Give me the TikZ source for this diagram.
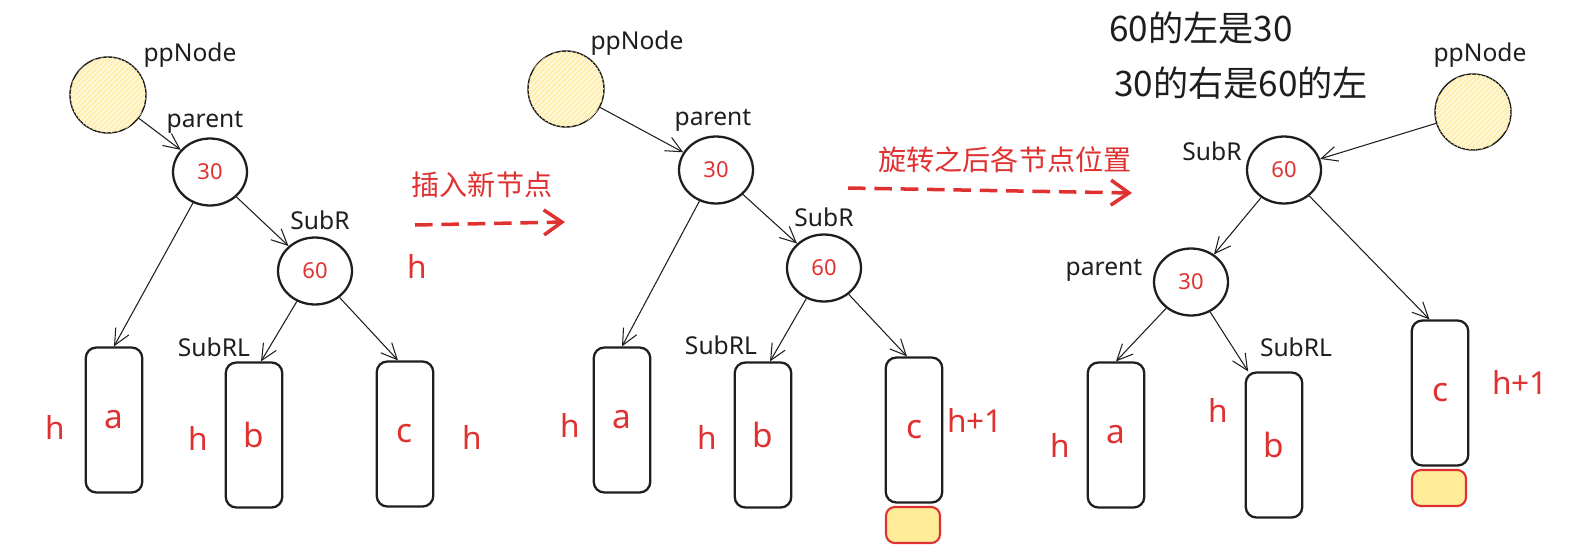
\documentclass[tikz,border=0pt]{standalone}
\usepackage{fontspec}
\setmainfont{Noto Sans}
\newfontfamily\cjk{Noto Sans CJK SC}
\usetikzlibrary{arrows.meta, positioning, patterns, shapes.geometric}
\definecolor{penred}{HTML}{E03131}
\definecolor{ink}{HTML}{1E1E1E}
\definecolor{ppfill}{HTML}{FFF6D6}
\definecolor{newfill}{HTML}{FFEC99}

\begin{document}
\begin{tikzpicture} [
    x=0.02cm, y=-0.02cm,
    keynode/.style={ellipse, draw=ink, line width=1.3pt, minimum width=1.48cm, minimum height=1.34cm, inner sep=0pt, text=penred, font=\fontsize{12.5}{14}\selectfont},
    ppnode/.style={circle, draw=ink, line width=0.8pt, minimum size=1.52cm, fill=ppfill, postaction={pattern=north east lines, pattern color=yellow!60!orange!45}},
    subtree/.style={rectangle, rounded corners=6pt, draw=ink, line width=1.3pt, minimum width=1.13cm, minimum height=2.9cm, text=penred, font=\fontsize{19}{22}\selectfont},
    newleaf/.style={rectangle, rounded corners=5pt, draw=penred, line width=1.2pt, fill=newfill, minimum width=1.08cm, minimum height=0.72cm},
    tag/.style={text=ink, font=\fontsize{14}{16}\selectfont},
    hgt/.style={text=penred, font=\fontsize{18}{21}\selectfont},
    note/.style={text=penred, font=\cjk\fontsize{16}{19}\selectfont},
    remark/.style={text=ink, anchor=west, font=\cjk\fontsize{20}{24}\selectfont},
    link/.style={draw=ink, line width=0.6pt, -{Straight Barb[length=0.32cm, width=0.3cm]}},
    move/.style={draw=penred, line width=2pt, dash pattern=on 10pt off 5pt, -{Straight Barb[length=0.36cm, width=0.5cm, line width=2pt]}}
]
    \useasboundingbox (0,0) rectangle (1575,555);

    % Before insertion
    \node[ppnode] (pp1) at (108,95) {};
    \node[tag] (pp1_tag) at (190,55) {ppNode};
    \node[keynode] (p1) at (210,172) {30};
    \node[tag] (p1_tag) at (205,122) {parent};
    \node[keynode] (s1) at (315,271) {60};
    \node[tag] (s1_tag) at (320,220) {SubR};
    \node[subtree] (a1) at (114,420) {a};
    \node[subtree] (b1) at (254,435) {b};
    \node[subtree] (c1) at (405,434) {c};
    \node[tag] (b1_tag) at (214,347) {SubRL};
    \node[hgt] (a1_h) at (55,427) {h};
    \node[hgt] (b1_h) at (198,438) {h};
    \node[hgt] (c1_h) at (472,437) {h};
    \node[hgt] (s1_h) at (417,266) {h};

    \path [link] (pp1) -- (p1);
    \path [link] (p1) -- (a1.north);
    \path [link] (p1) -- (s1);
    \path [link] (s1) -- ([xshift=4pt]b1.north);
    \path [link] (s1) -- ([xshift=-4pt]c1.north);

    % Insert step
    \node[note] (insert_note) at (482,185) {插入新节点};
    \coordinate (insert_from) at (415,225);
    \coordinate (insert_to) at (565,222);
    \path [move] (insert_from) -- (insert_to);

    % After insertion
    \node[ppnode] (pp2) at (566,89) {};
    \node[tag] (pp2_tag) at (637,43) {ppNode};
    \node[keynode] (p2) at (716,170) {30};
    \node[tag] (p2_tag) at (713,120) {parent};
    \node[keynode] (s2) at (824,268) {60};
    \node[tag] (s2_tag) at (824,217) {SubR};
    \node[subtree] (a2) at (622,420) {a};
    \node[subtree] (b2) at (763,435) {b};
    \node[subtree] (c2) at (914,430) {c};
    \node[newleaf] (n2) at (913,525) {};
    \node[tag] (b2_tag) at (721,345) {SubRL};
    \node[hgt] (a2_h) at (570,425) {h};
    \node[hgt] (b2_h) at (707,437) {h};
    \node[hgt] (c2_h) at (975,420) {h+1};

    \path [link] (pp2) -- (p2);
    \path [link] (p2) -- (a2.north);
    \path [link] (p2) -- (s2);
    \path [link] (s2) -- ([xshift=4pt]b2.north);
    \path [link] (s2) -- ([xshift=-4pt]c2.north);

    % Rotate step
    \node[note] (rotate_note) at (1005,160) {旋转之后各节点位置};
    \coordinate (rotate_from) at (848,188);
    \coordinate (rotate_to) at (1132,193);
    \path [move] (rotate_from) -- (rotate_to);

    % After rotation
    \node[remark] (remark1) at (1103,28) {60的左是30};
    \node[remark] (remark2) at (1108,83) {30的右是60的左};
    \node[ppnode] (pp3) at (1473,112) {};
    \node[tag] (pp3_tag) at (1480,55) {ppNode};
    \node[keynode] (s3) at (1284,170) {60};
    \node[tag] (s3_tag) at (1212,151) {SubR};
    \node[keynode] (p3) at (1191,282) {30};
    \node[tag] (p3_tag) at (1104,270) {parent};
    \node[subtree] (a3) at (1116,435) {a};
    \node[subtree] (b3) at (1274,445) {b};
    \node[subtree] (c3) at (1440,393) {c};
    \node[newleaf] (n3) at (1439,488) {};
    \node[tag] (b3_tag) at (1296,347) {SubRL};
    \node[hgt] (a3_h) at (1060,445) {h};
    \node[hgt] (b3_h) at (1218,410) {h};
    \node[hgt] (c3_h) at (1520,382) {h+1};

    \path [link] (pp3) -- (s3);
    \path [link] (s3) -- (p3);
    \path [link] (s3) -- ([xshift=-6pt]c3.north);
    \path [link] (p3) -- (a3.north);
    \path [link] (p3) -- ([xshift=2pt]b3.north west);

\end{tikzpicture}
\end{document}
